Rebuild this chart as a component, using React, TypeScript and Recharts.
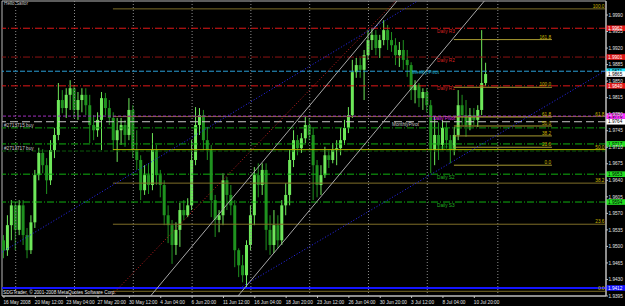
import React from 'react';
import {
  ComposedChart,
  Bar,
  XAxis,
  YAxis,
  ReferenceLine,
  ReferenceDot,
  ReferenceArea,
} from 'recharts';

// H4 candles, two 4h bars merged per candle
const opens = [
  1.9513, 1.9492, 1.9545, 1.9587, 1.9535, 1.9587, 1.9524, 1.9492, 1.9551, 1.9651,
  1.9698, 1.9672, 1.964, 1.9704, 1.9736, 1.981, 1.9793, 1.9821, 1.9835, 1.9789,
  1.981, 1.9821, 1.9799, 1.9757, 1.9746, 1.9768, 1.9814, 1.9793, 1.9772, 1.9725,
  1.9746, 1.9757, 1.9736, 1.9789, 1.9704, 1.9683, 1.9619, 1.9651, 1.963, 1.9704,
  1.9651, 1.963, 1.9566, 1.9545, 1.9503, 1.9535, 1.9577, 1.9566, 1.9587, 1.9683,
  1.9757, 1.9778, 1.9725, 1.9704, 1.9598, 1.9556, 1.9566, 1.964, 1.9609, 1.9587,
  1.9492, 1.946, 1.9439, 1.9503, 1.9566, 1.9651, 1.963, 1.9662, 1.9535, 1.9503,
  1.9545, 1.9513, 1.9587, 1.9609, 1.9683, 1.9725, 1.9708, 1.9729, 1.9757, 1.9736,
  1.9672, 1.963, 1.9651, 1.9693, 1.9683, 1.9704, 1.9708, 1.9725, 1.9751, 1.9778,
  1.9869, 1.9884, 1.9874, 1.9905, 1.9937, 1.9948, 1.992, 1.9937, 1.9958, 1.9937,
  1.9926, 1.9905, 1.9916, 1.9895, 1.9884, 1.9831, 1.9842, 1.9814, 1.9827, 1.9799,
  1.9704, 1.9736, 1.9715, 1.9751, 1.9725, 1.9704, 1.9736, 1.9799, 1.9778, 1.9757,
  1.9778, 1.9768, 1.9789, 1.9846,
];
const highs = [
  1.9524, 1.9566, 1.9598, 1.9594, 1.9598, 1.9598, 1.9539, 1.9566, 1.9662, 1.9709,
  1.9706, 1.9687, 1.9725, 1.9751, 1.9846, 1.9831, 1.9835, 1.9852, 1.9842, 1.9827,
  1.9835, 1.9835, 1.9821, 1.9778, 1.9784, 1.9827, 1.9825, 1.981, 1.9784, 1.9772,
  1.9772, 1.9768, 1.9814, 1.9799, 1.9746, 1.9693, 1.9672, 1.9676, 1.974, 1.9715,
  1.9662, 1.964, 1.9587, 1.9556, 1.9551, 1.9592, 1.9598, 1.9602, 1.9725, 1.9795,
  1.9793, 1.9789, 1.9753, 1.9715, 1.9609, 1.9577, 1.9655, 1.9647, 1.963, 1.9598,
  1.9496, 1.9482, 1.9513, 1.9587, 1.9668, 1.9676, 1.9676, 1.9676, 1.9566, 1.9577,
  1.9566, 1.9598, 1.9634, 1.9704, 1.9746, 1.9736, 1.974, 1.9774, 1.9772, 1.9751,
  1.9683, 1.9672, 1.9711, 1.9706, 1.9719, 1.9725, 1.9751, 1.9768, 1.9795, 1.9895,
  1.9899, 1.9899, 1.9916, 1.9958, 1.9962, 1.9958, 1.9948, 1.9979, 1.9969, 1.9954,
  1.9941, 1.9933, 1.9937, 1.9916, 1.989, 1.9852, 1.9846, 1.9835, 1.9835, 1.981,
  1.9774, 1.9763, 1.9768, 1.9763, 1.9736, 1.9753, 1.9831, 1.9821, 1.981, 1.9793,
  1.9793, 1.9799, 1.9958, 1.9889,
];
const lows = [
  1.9475, 1.948, 1.9513, 1.9492, 1.9524, 1.9503, 1.9475, 1.9484, 1.9539, 1.964,
  1.9655, 1.9611, 1.963, 1.9687, 1.9725, 1.9782, 1.9772, 1.9789, 1.9772, 1.9768,
  1.9784, 1.9778, 1.9719, 1.9725, 1.9732, 1.9704, 1.9778, 1.9757, 1.9704, 1.9679,
  1.9715, 1.9711, 1.9725, 1.9687, 1.9662, 1.9598, 1.9609, 1.9611, 1.9619, 1.963,
  1.9604, 1.9545, 1.9507, 1.9463, 1.9482, 1.9499, 1.9556, 1.9562, 1.9577, 1.9672,
  1.9736, 1.9704, 1.9683, 1.9562, 1.952, 1.953, 1.9545, 1.9577, 1.9566, 1.9456,
  1.9435, 1.9424, 1.9414, 1.9492, 1.9545, 1.9604, 1.9609, 1.9492, 1.9482, 1.9486,
  1.9496, 1.9503, 1.9566, 1.9587, 1.9668, 1.9693, 1.9698, 1.9719, 1.9725, 1.9598,
  1.9604, 1.9609, 1.9645, 1.9666, 1.9676, 1.9672, 1.9693, 1.9715, 1.974, 1.9772,
  1.9857, 1.9857, 1.981, 1.9895, 1.9916, 1.9905, 1.9899, 1.9926, 1.9916, 1.9912,
  1.9884, 1.988, 1.9874, 1.9859, 1.981, 1.9803, 1.9795, 1.9789, 1.9784, 1.9655,
  1.9672, 1.9683, 1.9704, 1.9708, 1.9676, 1.9693, 1.9725, 1.9757, 1.9732, 1.9746,
  1.9757, 1.9753, 1.9778, 1.984,
];
const closes = [
  1.9492, 1.9545, 1.9587, 1.9535, 1.9587, 1.9524, 1.9492, 1.9551, 1.9651, 1.9698,
  1.9672, 1.964, 1.9704, 1.9736, 1.981, 1.9793, 1.9821, 1.9835, 1.9789, 1.981,
  1.9821, 1.9799, 1.9757, 1.9746, 1.9768, 1.9814, 1.9793, 1.9772, 1.9725, 1.9746,
  1.9757, 1.9736, 1.9789, 1.9704, 1.9683, 1.9619, 1.9651, 1.963, 1.9704, 1.9651,
  1.963, 1.9566, 1.9545, 1.9503, 1.9535, 1.9577, 1.9566, 1.9587, 1.9683, 1.9757,
  1.9778, 1.9725, 1.9704, 1.9598, 1.9556, 1.9566, 1.964, 1.9609, 1.9587, 1.9492,
  1.946, 1.9439, 1.9503, 1.9566, 1.9651, 1.963, 1.9662, 1.9535, 1.9503, 1.9545,
  1.9513, 1.9587, 1.9609, 1.9683, 1.9725, 1.9708, 1.9729, 1.9757, 1.9736, 1.9672,
  1.963, 1.9651, 1.9693, 1.9683, 1.9704, 1.9708, 1.9725, 1.9751, 1.9778, 1.9869,
  1.9884, 1.9874, 1.9905, 1.9937, 1.9948, 1.992, 1.9937, 1.9958, 1.9937, 1.9926,
  1.9905, 1.9916, 1.9895, 1.9884, 1.9831, 1.9842, 1.9814, 1.9827, 1.9799, 1.9704,
  1.9736, 1.9715, 1.9751, 1.9725, 1.9704, 1.9736, 1.9799, 1.9778, 1.9757, 1.9778,
  1.9768, 1.9789, 1.9846, 1.9865,
];
const bidPrice = 1.9865;

// time axis: a label every 8 candles
const dateLabels = [
  '16 May 2008', '20 May 12:00', '23 May 04:00', '27 May 20:00', '30 May 12:00',
  '4 Jun 04:00', '6 Jun 20:00', '11 Jun 12:00', '16 Jun 04:00', '18 Jun 20:00',
  '23 Jun 12:00', '26 Jun 04:00', '30 Jun 20:00', '3 Jul 12:00', '8 Jul 04:00',
  '10 Jul 20:00',
];
const dateTicks = [0, 8, 16, 24, 32, 40, 48, 56, 64, 72, 80, 88, 96, 104, 112, 120];
const weekSeparators = [3, 18, 33, 48, 63, 78, 93, 108, 126];

const priceTicks = [
  1.999, 1.9955, 1.992, 1.9885, 1.985, 1.9815, 1.978, 1.9745, 1.971, 1.9675,
  1.964, 1.9605, 1.957, 1.9535, 1.95, 1.9465, 1.943, 1.9395,
];

// pivot levels
const pivotNames = [
  'Daily R3', 'Daily R2', 'Weekly Pivot', 'Daily R1', 'Daily Pivot',
  'MonthlyPivot', 'Daily S1', 'Daily S2', 'Daily S3',
];
const pivotPrices = [1.9962, 1.9901, 1.9871, 1.984, 1.9776, 1.9764, 1.9717, 1.9653, 1.9594];

// open orders
const orderNames = ['#2713715 buy', '#2713717 buy'];
const orderPrices = [1.9751, 1.9702];

const supportLine = 1.9412;

// fibonacci sets
const bigFibLevels = ['100.0', '61.8', '50.0', '38.2', '23.6', '0.0'];
const bigFibPrices = [2.0003, 1.9775, 1.9705, 1.9634, 1.9547, 1.9405];
const smallFibLevels = ['161.8', '100.0', '61.8', '50.0', '38.2', '23.6', '0.0'];
const smallFibPrices = [1.9938, 1.9837, 1.9774, 1.9755, 1.9734, 1.971, 1.9672];

// trend lines as [candle, price, candle, price]
const channelLines = [
  [37.4, 1.9395, 100.3, 2.002],
  [59.7, 1.9395, 122.6, 2.002],
];
const redTrend = [27.3, 1.9395, 99.9, 2.002];
const blueTrends = [
  [-0.5, 1.9488, 105.6, 2.002],
  [60.2, 1.9412, 153.6, 1.9873],
];

const candles = opens.map((o, i) => ({
  i,
  open: o,
  high: highs[i],
  low: lows[i],
  close: closes[i],
  range: [lows[i], highs[i]],
}));

const X_DOMAIN: [number, number] = [-0.5, 153.6];
const Y_DOMAIN: [number, number] = [1.9395, 2.00197];
const FONT = '"Liberation Sans", Arial, sans-serif';
const FS = 4.7;

const RED = '#e01818';
const GREEN = '#10b010';
const levelStyle: Record<string, any> = {
  'Daily R3': { stroke: RED, dash: '7 2 1 2', text: '#d82020', tag: RED, tagText: '#fff', at: 110.5, dy: 4.6 },
  'Daily R2': { stroke: '#8a1212', dash: '7 2 1 2', text: '#d82020', tag: RED, tagText: '#fff', at: 110.5, dy: 4.6 },
  'Weekly Pivot': { stroke: '#2a9fd6', dash: '5 2', text: '#22b0d0', tag: '#22e6ff', tagText: '#000', at: 104.1, dy: 2.6 },
  'Daily R1': { stroke: RED, dash: '7 2 1 2', text: '#d82020', tag: RED, tagText: '#fff', at: 110.5, dy: 4.6 },
  'Daily Pivot': { stroke: '#a030c0', dash: '3 2', text: '#e030e8', tag: '#ff30ff', tagText: '#000', at: 109.5, dy: 4.4 },
  MonthlyPivot: { stroke: '#c8c8c8', dash: '8 4', text: '#c8c8c8', tag: '#ffffff', tagText: '#000', at: 99, dy: 4 },
  'Daily S1': { stroke: GREEN, dash: '7 2 1 2', text: '#169a16', tag: '#22e022', tagText: '#000', at: 110.5, dy: 4.6 },
  'Daily S2': { stroke: GREEN, dash: '7 2 1 2', text: '#22b022', tag: '#22e022', tagText: '#000', at: 110.5, dy: 4.6 },
  'Daily S3': { stroke: GREEN, dash: '7 2 1 2', text: '#22b022', tag: '#22e022', tagText: '#000', at: 110.5, dy: 4.6 },
};

const BULL = '#6ee85a';
const BEAR = '#1f921f';

const Candle = (props: any) => {
  const { x, y, width, height, payload } = props;
  if (!payload) return null;
  const { open, close, high, low } = payload;
  const top = Math.min(y, y + height);
  const h = Math.abs(height);
  const span = high - low || 1e-9;
  const py = (p: number) => top + ((high - p) / span) * h;
  const cx = x + width / 2;
  const color = close >= open ? BULL : BEAR;
  const b1 = py(Math.max(open, close));
  const b2 = py(Math.min(open, close));
  return (
    <g>
      <line x1={cx} x2={cx} y1={top} y2={top + h} stroke={color} strokeWidth={1} />
      <rect x={cx - 1.5} y={b1} width={3} height={Math.max(1, b2 - b1)} fill={color} />
    </g>
  );
};

const tag = (price: number, bg: string, fg: string) => (props: any) => {
  const vb = props.viewBox || {};
  const right = (vb.x || 0) + (vb.width || 0);
  return (
    <g>
      <rect x={right} y={vb.y - 2.8} width={19} height={5.6} fill={bg} />
      <text x={right + 2} y={vb.y + 1.7} fontSize={FS} fontFamily={FONT} fill={fg}>
        {price.toFixed(4)}
      </text>
    </g>
  );
};

const textAt = (label: string, color: string, dy: number, anchor = 'start') => (p: any) => (
  <text x={p.cx} y={p.cy + dy} fontSize={FS} fontFamily={FONT} fill={color} textAnchor={anchor}>
    {label}
  </text>
);

const DateTick = (props: any) => {
  const { x, y, payload } = props;
  const idx = dateTicks.indexOf(payload.value);
  return (
    <text x={x - 0.5} y={y + 5.5} fontSize={FS} fontFamily={FONT} fill="#e0e0e0" textAnchor="start">
      {dateLabels[idx]}
    </text>
  );
};

const PriceTick = (props: any) => {
  const { x, y, payload } = props;
  return (
    <text x={x + 0.5} y={y + 1.7} fontSize={FS} fontFamily={FONT} fill="#e0e0e0" textAnchor="start">
      {payload.value.toFixed(4)}
    </text>
  );
};

export default function App() {
  return (
    <div style={{ position: 'relative', width: 625, height: 306, background: '#000', overflow: 'hidden' }}>
      <style>{'body{margin:0;background:#000}'}</style>
      <ComposedChart
        width={625}
        height={306}
        data={candles}
        margin={{ top: 1, right: 0, bottom: 0, left: 2 }}
      >
        <XAxis
          type="number"
          dataKey="i"
          domain={X_DOMAIN}
          allowDataOverflow
          ticks={dateTicks}
          interval={0}
          height={10}
          tickSize={2}
          tickMargin={0}
          stroke="#c0c0c0"
          tick={<DateTick />}
        />
        <YAxis
          orientation="right"
          type="number"
          domain={Y_DOMAIN}
          allowDataOverflow
          ticks={priceTicks}
          interval={0}
          width={19}
          tickSize={2}
          tickMargin={0}
          stroke="#c0c0c0"
          tick={<PriceTick />}
        />
        <ReferenceArea
          x1={X_DOMAIN[0]}
          x2={X_DOMAIN[1]}
          y1={Y_DOMAIN[0]}
          y2={Y_DOMAIN[1]}
          fill="none"
          stroke="#b8b8b8"
          strokeWidth={1}
        />
        {weekSeparators.map((v) => (
          <ReferenceLine key={'w' + v} x={v} stroke="#8c8c8c" strokeDasharray="1 2" />
        ))}

        {bigFibPrices.map((p, k) => (
          <ReferenceLine
            key={'bf' + k}
            segment={[{ x: 27.8, y: p }, { x: X_DOMAIN[1], y: p }]}
            stroke={bigFibLevels[k] === '50.0' ? '#b4b400' : '#7e6e28'}
            strokeWidth={1}
            ifOverflow="hidden"
          />
        ))}
        {smallFibPrices.map((p, k) => (
          <ReferenceLine
            key={'sf' + k}
            segment={[{ x: 114.8, y: p }, { x: 139.8, y: p }]}
            stroke="#a89a30"
            strokeWidth={1}
          />
        ))}

        {pivotNames.map((n, k) => (
          <ReferenceLine
            key={'pv' + n}
            y={pivotPrices[k]}
            stroke={levelStyle[n].stroke}
            strokeDasharray={levelStyle[n].dash}
            label={tag(pivotPrices[k], levelStyle[n].tag, levelStyle[n].tagText)}
          />
        ))}
        {orderPrices.map((p, k) => (
          <ReferenceLine
            key={'ord' + k}
            y={p}
            stroke={k === 0 ? '#0c9a0c' : '#0a5a0a'}
            strokeDasharray={k === 0 ? '7 2 1 2' : '4 2'}
          />
        ))}
        <ReferenceLine y={supportLine} stroke="#1414ff" strokeWidth={2} label={tag(supportLine, '#1414ff', '#fff')} />

        {channelLines.map((s, k) => (
          <ReferenceLine
            key={'ch' + k}
            segment={[{ x: s[0], y: s[1] }, { x: s[2], y: s[3] }]}
            stroke="#a8a8a8"
            ifOverflow="hidden"
          />
        ))}
        <ReferenceLine
          segment={[{ x: redTrend[0], y: redTrend[1] }, { x: redTrend[2], y: redTrend[3] }]}
          stroke="#c02020"
          strokeDasharray="1 2"
          ifOverflow="hidden"
        />
        {blueTrends.map((s, k) => (
          <ReferenceLine
            key={'bt' + k}
            segment={[{ x: s[0], y: s[1] }, { x: s[2], y: s[3] }]}
            stroke="#2a2aff"
            strokeDasharray="1 2"
            ifOverflow="hidden"
          />
        ))}

        <Bar dataKey="range" barSize={3} shape={<Candle />} isAnimationActive={false} />

        <ReferenceLine y={bidPrice} stroke="none" label={tag(bidPrice, '#ffffff', '#000')} />

        {pivotNames.map((n, k) => (
          <ReferenceDot
            key={'pl' + n}
            x={levelStyle[n].at}
            y={pivotPrices[k]}
            r={0}
            shape={textAt(n, levelStyle[n].text, levelStyle[n].dy)}
          />
        ))}
        {orderNames.map((n, k) => (
          <ReferenceDot key={'ol' + k} x={0} y={orderPrices[k]} r={0} shape={textAt(n, '#c8c8c8', -0.8)} />
        ))}
        {bigFibLevels.map((l, k) => (
          <ReferenceDot
            key={'bfl' + k}
            x={153.2}
            y={bigFibPrices[k]}
            r={0}
            shape={textAt(l, '#c8b400', -0.8, 'end')}
          />
        ))}
        {smallFibLevels.map((l, k) => (
          <ReferenceDot
            key={'sfl' + k}
            x={139.6}
            y={smallFibPrices[k]}
            r={0}
            shape={textAt(l, '#c8b400', -0.8, 'end')}
          />
        ))}
      </ComposedChart>
      <div style={{ position: 'absolute', left: 4, top: 1, fontSize: FS, fontFamily: FONT, color: '#c0c0c0', lineHeight: '6px' }}>
        Hello Sailor
      </div>
      <div style={{ position: 'absolute', left: 3, top: 290, fontSize: FS, fontFamily: FONT, color: '#e8e8e8', lineHeight: '6px', whiteSpace: 'nowrap' }}>
        SDGTrader, © 2001-2008 MetaQuotes Software Corp.
      </div>
    </div>
  );
}
